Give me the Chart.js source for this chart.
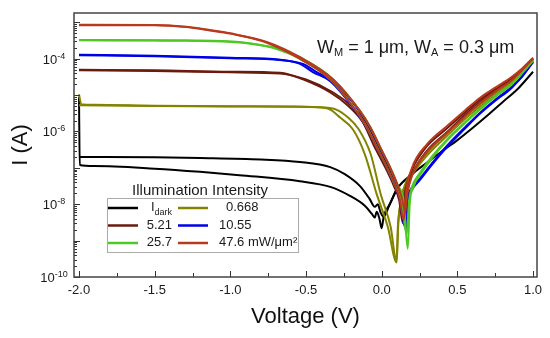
<!DOCTYPE html>
<html lang="en">
<head>
<meta charset="UTF-8">
<title>I-V under illumination</title>
<script src="https://cdn.jsdelivr.net/npm/chart.js"></script>
<style>
  body { margin: 0; background: #fff; }
</style>
</head>
<body>
<canvas id="chart" width="550" height="338"></canvas>
<script>
  // [voltage (V), current (A)], each sweep sorted by voltage
  const darkFwd = [[-2.0, 9.0e-6], [-1.995, 1.2e-7], [-1.9, 1.12e-7], [-1.5, 9.5e-8], [-1.2, 7.8e-8], [-0.94, 6.3e-8],
    [-0.54, 4.3e-8], [-0.34, 3.0e-8], [-0.21, 1.7e-8], [-0.11, 9.0e-9], [-0.066, 5.5e-9], [-0.046, 4.3e-9],
    [-0.033, 6.2e-9], [-0.015, 4.0e-9], [0.0, 2.2e-9], [0.013, 4.6e-9], [0.053, 1.0e-8], [0.1, 2.6e-8],
    [0.2, 6.7e-8], [0.3, 1.4e-7], [0.4, 2.9e-7], [0.5, 5.8e-7], [0.6, 1.25e-6], [0.7, 2.8e-6], [0.8, 6.5e-6],
    [0.9, 1.5e-5], [1.0, 4.4e-5]];
  const darkRev = [[-2.0, 2.0e-7], [-1.5, 1.95e-7], [-1.2, 1.87e-7], [-0.8, 1.7e-7], [-0.54, 1.45e-7], [-0.34, 1.05e-7],
    [-0.244, 6.7e-8], [-0.145, 3.2e-8], [-0.08, 1.4e-8], [-0.046, 8.5e-9], [-0.026, 1.0e-8], [-0.007, 5.9e-9],
    [0.013, 4.6e-9], [0.053, 1.0e-8], [0.1, 2.6e-8]];

  const oliveFwd = [[-2.0, 1.05e-5], [-1.985, 5.6e-6], [-1.9, 5.4e-6], [-1.5, 5.1e-6], [-1.0, 4.95e-6], [-0.6, 4.9e-6],
    [-0.45, 4.75e-6], [-0.34, 4.0e-6], [-0.277, 2.45e-6], [-0.191, 1.15e-6], [-0.112, 2.4e-7], [-0.033, 1.9e-8],
    [0.04, 2.4e-9], [0.099, 2.5e-10], [0.11, 3.0e-9], [0.13, 1.5e-8], [0.17, 5.0e-8], [0.22, 1.0e-7], [0.3, 2.6e-7],
    [0.43, 9.0e-7], [0.55, 2.6e-6], [0.65, 5.5e-6], [0.75, 1.15e-5], [0.86, 2.4e-5], [0.93, 4.2e-5], [1.0, 9.5e-5]];
  const oliveRev = [[-2.0, 5.3e-6], [-1.5, 5.0e-6], [-1.0, 4.85e-6], [-0.6, 4.8e-6], [-0.4, 4.6e-6], [-0.3, 4.0e-6],
    [-0.224, 2.45e-6], [-0.152, 1.15e-6], [-0.073, 2.4e-7], [-0.007, 1.9e-8], [0.059, 2.4e-9], [0.097, 2.8e-10],
    [0.108, 3.0e-9], [0.13, 1.2e-8], [0.17, 4.0e-8], [0.22, 8.5e-8], [0.3, 2.2e-7], [0.43, 7.5e-7], [0.55, 2.2e-6],
    [0.65, 4.8e-6], [0.75, 1.0e-5], [0.86, 2.2e-5], [1.0, 9.0e-5]];

  const brownFwd = [[-2.0, 5.0e-5], [-1.5, 4.8e-5], [-1.0, 4.4e-5], [-0.67, 4.1e-5], [-0.52, 2.7e-5], [-0.34, 1.18e-5],
    [-0.22, 5.0e-6], [-0.125, 1.8e-6], [-0.05, 4.0e-7], [0.02, 1.1e-7], [0.08, 3.2e-8], [0.115, 1.3e-8], [0.14, 3.0e-9],
    [0.15, 1.5e-8], [0.17, 4.0e-8], [0.2, 9.0e-8], [0.3, 4.0e-7], [0.43, 1.2e-6], [0.55, 3.4e-6], [0.65, 7.5e-6],
    [0.75, 1.45e-5], [0.86, 2.9e-5], [1.0, 1.02e-4]];
  const brownRev = [[-2.0, 4.8e-5], [-1.5, 4.6e-5], [-1.0, 4.25e-5], [-0.67, 3.9e-5], [-0.5, 2.7e-5], [-0.32, 1.18e-5],
    [-0.2, 5.0e-6], [-0.105, 1.8e-6], [-0.03, 4.5e-7], [0.04, 1.1e-7], [0.095, 3.2e-8], [0.13, 1.3e-8], [0.15, 5.0e-9],
    [0.16, 1.5e-8], [0.18, 3.5e-8], [0.2, 6.5e-8], [0.3, 3.0e-7], [0.43, 9.5e-7], [0.55, 2.9e-6], [0.65, 6.5e-6],
    [0.75, 1.3e-5], [0.86, 2.7e-5], [1.0, 1.0e-4]];

  const blueFwd = [[-2.0, 1.29e-4], [-1.5, 1.2e-4], [-1.0, 1.06e-4], [-0.67, 9.4e-5], [-0.54, 7.2e-5], [-0.455, 4.3e-5],
    [-0.34, 2.4e-5], [-0.165, 3.3e-6], [-0.099, 1.25e-6], [-0.033, 3.5e-7], [0.033, 1.0e-7], [0.086, 3.2e-8],
    [0.12, 1.3e-8], [0.15, 2.5e-9], [0.165, 1.2e-8], [0.19, 2.5e-8], [0.25, 4.9e-8], [0.33, 1.3e-7], [0.43, 4.0e-7],
    [0.55, 1.3e-6], [0.65, 3.3e-6], [0.75, 7.5e-6], [0.86, 1.7e-5], [0.93, 3.3e-5], [1.0, 8.3e-5]];
  const blueRev = [[-2.0, 1.25e-4], [-1.5, 1.17e-4], [-1.0, 1.03e-4], [-0.67, 9.2e-5], [-0.52, 7.2e-5], [-0.43, 4.3e-5],
    [-0.32, 2.4e-5], [-0.14, 3.3e-6], [-0.075, 1.25e-6], [-0.01, 3.5e-7], [0.055, 1.0e-7], [0.105, 3.2e-8],
    [0.135, 1.3e-8], [0.16, 2.0e-9], [0.175, 1.2e-8], [0.2, 2.5e-8], [0.25, 4.5e-8], [0.33, 1.2e-7], [0.43, 3.7e-7],
    [0.55, 1.2e-6], [0.65, 3.1e-6], [0.75, 7.0e-6], [0.86, 1.6e-5], [1.0, 8.0e-5]];

  const greenFwd = [[-2.0, 3.3e-4], [-1.5, 3.25e-4], [-1.29, 3.2e-4], [-0.94, 2.9e-4], [-0.8, 2.4e-4], [-0.72, 2.0e-4],
    [-0.56, 1.1e-4], [-0.34, 2.7e-5], [-0.165, 3.5e-6], [-0.099, 1.3e-6], [-0.033, 3.7e-7], [0.033, 1.05e-7],
    [0.086, 3.4e-8], [0.13, 1.2e-8], [0.165, 1.5e-9], [0.18, 1.2e-8], [0.2, 3.0e-8], [0.25, 7.0e-8], [0.33, 2.0e-7],
    [0.43, 6.0e-7], [0.55, 1.8e-6], [0.65, 4.3e-6], [0.75, 9.5e-6], [0.86, 2.1e-5], [1.0, 9.0e-5]];
  const greenRev = [[-2.0, 3.2e-4], [-1.5, 3.15e-4], [-1.29, 3.1e-4], [-0.94, 2.8e-4], [-0.8, 2.35e-4], [-0.7, 2.0e-4],
    [-0.54, 1.1e-4], [-0.32, 2.7e-5], [-0.14, 3.5e-6], [-0.075, 1.3e-6], [-0.01, 3.7e-7], [0.055, 1.05e-7],
    [0.105, 3.4e-8], [0.145, 1.2e-8], [0.172, 6.0e-10], [0.185, 1.0e-8], [0.21, 3.0e-8], [0.26, 7.0e-8], [0.33, 1.8e-7],
    [0.43, 5.5e-7], [0.55, 1.7e-6], [0.65, 4.0e-6], [0.75, 9.0e-6], [0.86, 2.0e-5], [1.0, 8.8e-5]];

  const redFwd = [[-2.0, 8.6e-4], [-1.5, 8.5e-4], [-1.29, 7.6e-4], [-1.135, 6.2e-4], [-1.0, 5.0e-4], [-0.785, 3.0e-4],
    [-0.56, 1.1e-4], [-0.34, 2.7e-5], [-0.165, 3.5e-6], [-0.099, 1.3e-6], [-0.033, 3.7e-7], [0.033, 1.05e-7],
    [0.086, 3.4e-8], [0.119, 1.4e-8], [0.145, 3.6e-9], [0.16, 2.0e-8], [0.2, 1.0e-7], [0.3, 4.5e-7], [0.43, 1.4e-6],
    [0.55, 3.8e-6], [0.65, 8.5e-6], [0.75, 1.6e-5], [0.86, 3.2e-5], [0.93, 5.5e-5], [1.0, 1.07e-4]];
  const redRev = [[-2.0, 8.4e-4], [-1.5, 8.3e-4], [-1.29, 7.4e-4], [-1.135, 6.0e-4], [-1.0, 4.9e-4], [-0.76, 2.9e-4],
    [-0.54, 1.1e-4], [-0.32, 2.7e-5], [-0.14, 3.5e-6], [-0.075, 1.3e-6], [-0.01, 3.7e-7], [0.055, 1.05e-7],
    [0.105, 3.4e-8], [0.135, 1.4e-8], [0.155, 6.0e-9], [0.17, 2.0e-8], [0.2, 6.0e-8], [0.3, 2.8e-7], [0.43, 9.0e-7],
    [0.55, 2.6e-6], [0.65, 6.0e-6], [0.75, 1.25e-5], [0.86, 2.6e-5], [1.0, 1.0e-4]];

  const seriesSweeps = [[darkFwd, darkRev], [oliveFwd, oliveRev], [brownFwd, brownRev],
    [blueFwd, blueRev], [greenFwd, greenRev], [redFwd, redRev]];
  const seriesColors = ['#000000', '#838300', '#6b1a0e', '#0000e6', '#4dc824', '#b8391c'];
  const legendLabels = ['I', '0.668', '5.21', '10.55', '25.7', '47.6 mW/\u03bcm\u00b2'];
  const legendSubs = ['dark', '', '', '', '', ''];
  const xTickLabels = [-2.0, -1.5, -1.0, -0.5, 0.0, 0.5, 1.0];
  const yTickExponents = [-10, -8, -6, -4];

  const FONT = '"Liberation Sans", Arial, sans-serif';
  Chart.defaults.font.family = FONT;

  // red drawn last (on top), dark first
  const datasets = [];
  for (let i = seriesSweeps.length - 1; i >= 0; i--) {
    seriesSweeps[i].forEach(sweep => {
      datasets.push({
        data: sweep.map(p => ({ x: p[0], y: p[1] })),
        borderColor: seriesColors[i],
        borderWidth: 2,
        showLine: true,
        pointRadius: 0,
        cubicInterpolationMode: 'monotone'
      });
    });
  }

  const isLabelled = v => xTickLabels.some(t => Math.abs(t - v) < 1e-6);

  function richWidth(ctx, parts) {
    let w = 0;
    parts.forEach(([text, size]) => { ctx.font = size + 'px ' + FONT; w += ctx.measureText(text).width; });
    return w;
  }
  function drawRich(ctx, parts, x, y) {
    ctx.textAlign = 'left';
    ctx.textBaseline = 'alphabetic';
    parts.forEach(([text, size, dy]) => {
      ctx.font = size + 'px ' + FONT;
      ctx.fillText(text, x, y + dy);
      x += ctx.measureText(text).width;
    });
  }

  const framePlugin = {
    id: 'frameAndText',
    afterDraw(chart) {
      const { ctx, chartArea: a, scales: { x, y } } = chart;
      ctx.save();

      // inward tick marks
      ctx.strokeStyle = '#333';
      ctx.lineWidth = 1;
      ctx.beginPath();
      x.ticks.forEach(t => {
        const px = Math.round(x.getPixelForValue(t.value)) + 0.5;
        ctx.moveTo(px, a.bottom);
        ctx.lineTo(px, a.bottom - (isLabelled(t.value) ? 6 : 4));
      });
      for (let e = -10; e <= -3; e++) {
        for (let m = 1; m <= 9; m++) {
          const v = m * Math.pow(10, e);
          if (v > y.max) continue;
          const py = Math.round(y.getPixelForValue(v)) + 0.5;
          ctx.moveTo(a.left, py);
          ctx.lineTo(a.left + (m === 1 ? 6 : 3), py);
        }
      }
      ctx.stroke();

      // frame
      ctx.strokeStyle = '#444';
      ctx.lineWidth = 1.5;
      ctx.strokeRect(a.left, a.top, a.right - a.left, a.bottom - a.top);

      ctx.fillStyle = '#1a1a1a';
      // y tick labels 10^n
      yTickExponents.forEach(e => {
        const py = y.getPixelForValue(Math.pow(10, e));
        const parts = [['10', 13, 5], ['-' + Math.abs(e), 9, 0]];
        const w = richWidth(ctx, parts);
        drawRich(ctx, parts, 54 - w / 2, py);
      });

      // annotation
      drawRich(ctx, [['W', 18, 0], ['M', 11, 3], [' = 1 \u03bcm, W', 18, 0], ['A', 11, 3], [' = 0.3 \u03bcm', 18, 0]], 317, 53);

      // legend
      ctx.font = '15px ' + FONT;
      ctx.textAlign = 'center';
      ctx.fillText('Illumination Intensity', 200, 195);
      ctx.strokeStyle = '#aaa';
      ctx.lineWidth = 1;
      ctx.strokeRect(107.5, 198.5, 191, 54);
      const rowY = [208, 225.5, 243];
      legendLabels.forEach((label, i) => {
        const row = Math.floor(i / 2), col = i % 2;
        const ly = rowY[row];
        ctx.strokeStyle = seriesColors[i];
        ctx.lineWidth = 2.5;
        ctx.beginPath();
        const x0 = col === 0 ? 108 : 178;
        ctx.moveTo(x0, ly);
        ctx.lineTo(x0 + 30, ly);
        ctx.stroke();
        ctx.fillStyle = '#1a1a1a';
        if (col === 0) {
          const parts = [[label, 13, 0]];
          if (legendSubs[i]) parts.push([legendSubs[i], 9, 4]);
          drawRich(ctx, parts, 172 - richWidth(ctx, parts), ly + 3);
        } else {
          drawRich(ctx, [[label, 13, 0]], i === 1 ? 226 : 219, ly + 3);
        }
      });
      ctx.restore();
    }
  };

  new Chart(document.getElementById('chart'), {
    type: 'scatter',
    data: { datasets },
    options: {
      responsive: false,
      animation: false,
      devicePixelRatio: 1,
      layout: { padding: { top: 13, right: 13, left: 0, bottom: 0 } },
      plugins: { legend: { display: false }, tooltip: { enabled: false } },
      scales: {
        x: {
          type: 'linear',
          min: -2.033,
          max: 1.026,
          afterFit: s => { s.height = 61; },
          grid: { display: false, drawTicks: false },
          border: { display: false },
          ticks: {
            stepSize: 0.25,
            includeBounds: false,
            autoSkip: false,
            maxRotation: 0,
            padding: 6,
            color: '#1a1a1a',
            font: { size: 13 },
            callback: v => isLabelled(v) ? (Math.abs(v) < 1e-9 ? '0.0' : v.toFixed(1)) : ''
          },
          title: { display: true, text: 'Voltage (V)', color: '#111', font: { size: 22 }, padding: { top: 0, bottom: 8 } }
        },
        y: {
          type: 'logarithmic',
          min: 1e-10,
          max: 1.81e-3,
          afterFit: s => { s.width = 74; },
          grid: { display: false, drawTicks: false },
          border: { display: false },
          ticks: { display: false },
          title: { display: true, text: 'I (A)', color: '#111', font: { size: 22 }, padding: { top: 8, bottom: 0 } }
        }
      }
    },
    plugins: [framePlugin]
  });
</script>
</body>
</html>
